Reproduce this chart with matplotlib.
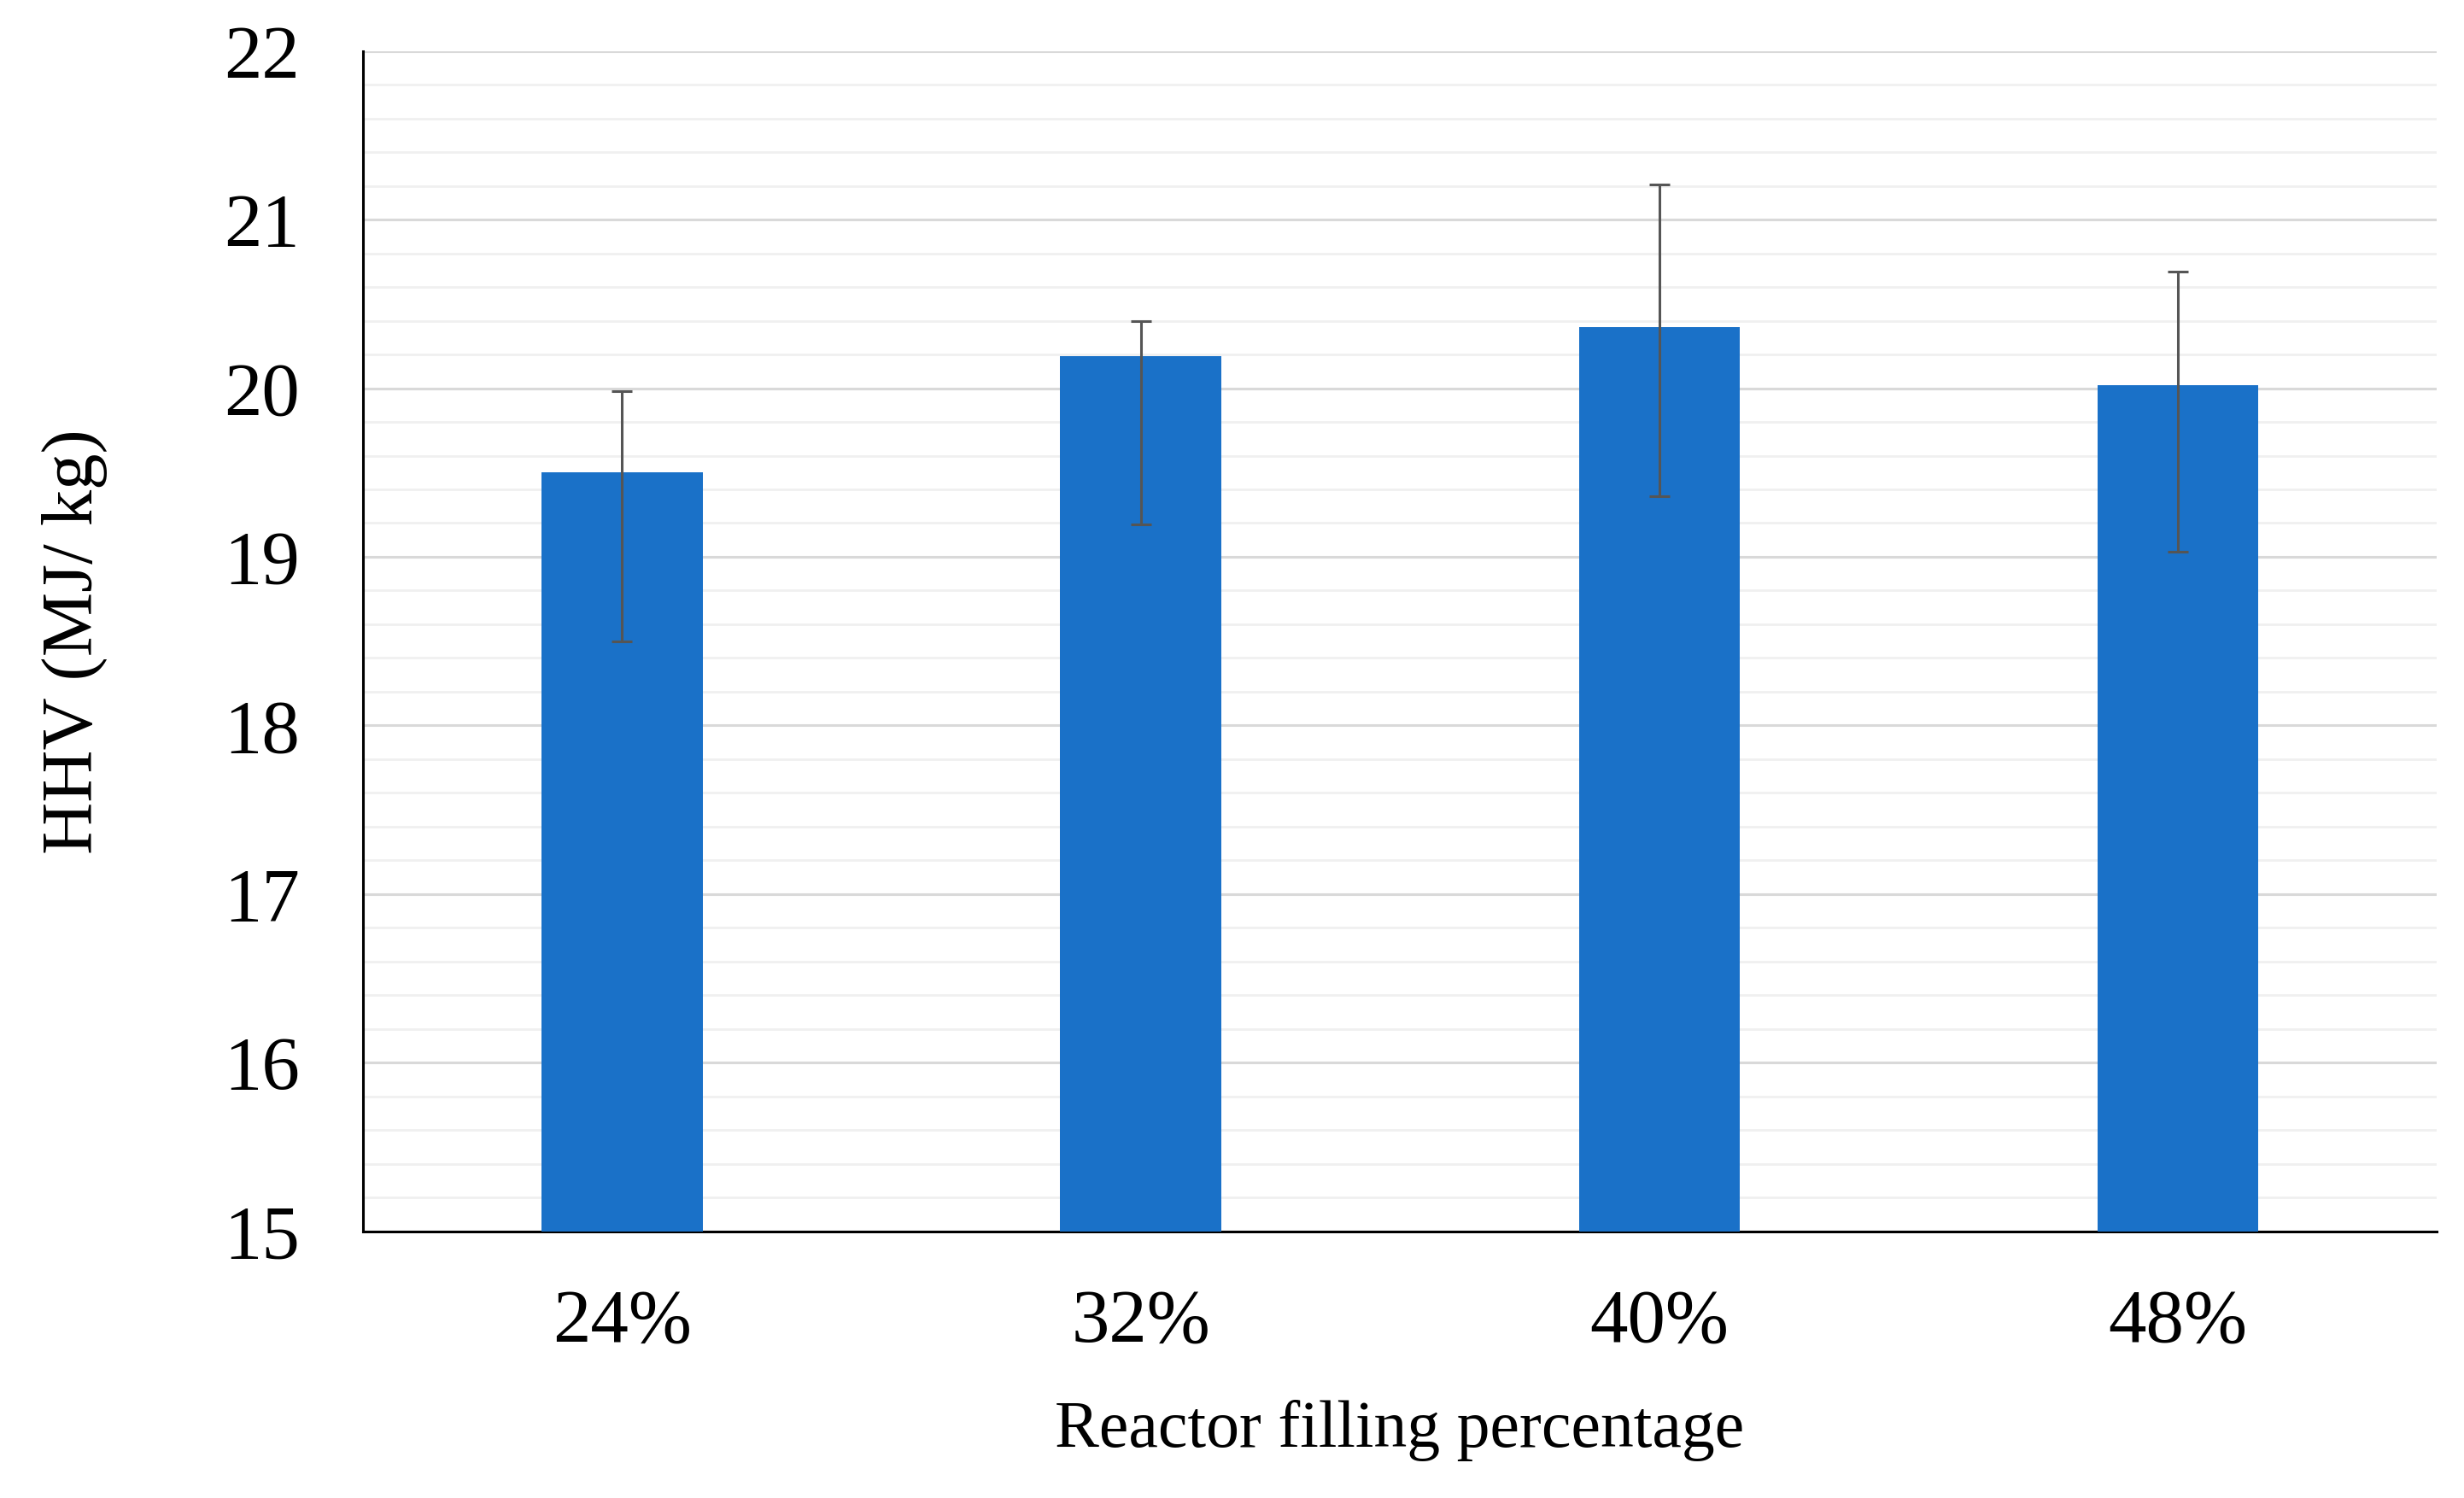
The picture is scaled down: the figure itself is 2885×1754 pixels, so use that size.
import matplotlib
matplotlib.use("Agg")
import matplotlib.pyplot as plt
from matplotlib.ticker import MultipleLocator

categories = ["24%", "32%", "40%", "48%"]
hhv = [19.50, 20.19, 20.36, 20.02]
err_low = [1.00, 1.00, 1.00, 0.99]
err_high = [0.48, 0.21, 0.85, 0.67]
y_ticks = [15, 16, 17, 18, 19, 20, 21, 22]

plt.rcParams['font.family'] = ['Liberation Serif', 'DejaVu Serif']

fig = plt.figure(figsize=(28.85, 17.54), dpi=100)
ax = fig.add_axes([0.1473, 0.178, 0.989 - 0.1473, 0.966 - 0.178])

x = list(range(len(categories)))
ax.bar(x, hhv, width=0.31, color='#1A71C8', zorder=3)
ax.errorbar(x, hhv, yerr=[err_low, err_high], fmt='none', ecolor='#555555',
            elinewidth=2.2, capsize=8.5, capthick=2.2, zorder=4)

ax.set_xlim(-0.5, len(categories) - 0.5)
ax.set_ylim(15, 22)
ax.set_yticks(y_ticks)
ax.yaxis.set_minor_locator(MultipleLocator(0.2))
ax.set_xticks(x)
ax.set_xticklabels(categories)

ax.grid(axis='y', which='major', color='#d9d9d9', linewidth=2.2, zorder=0)
ax.grid(axis='y', which='minor', color='#f0f0f0', linewidth=2.0, zorder=0)
ax.set_axisbelow(True)

for s in ['top', 'right']:
    ax.spines[s].set_visible(False)
for s in ['left', 'bottom']:
    ax.spines[s].set_color('black')
    ax.spines[s].set_linewidth(2.2)

ax.tick_params(axis='both', which='both', length=0, labelsize=64)
ax.tick_params(axis='y', pad=53)
ax.tick_params(axis='x', pad=48)

ax.set_xlabel('Reactor filling percentage', fontsize=56, labelpad=36)
ax.set_ylabel('HHV (MJ/ kg)', fontsize=61, labelpad=98)

fig.savefig('out.png', dpi=100, facecolor='white')
